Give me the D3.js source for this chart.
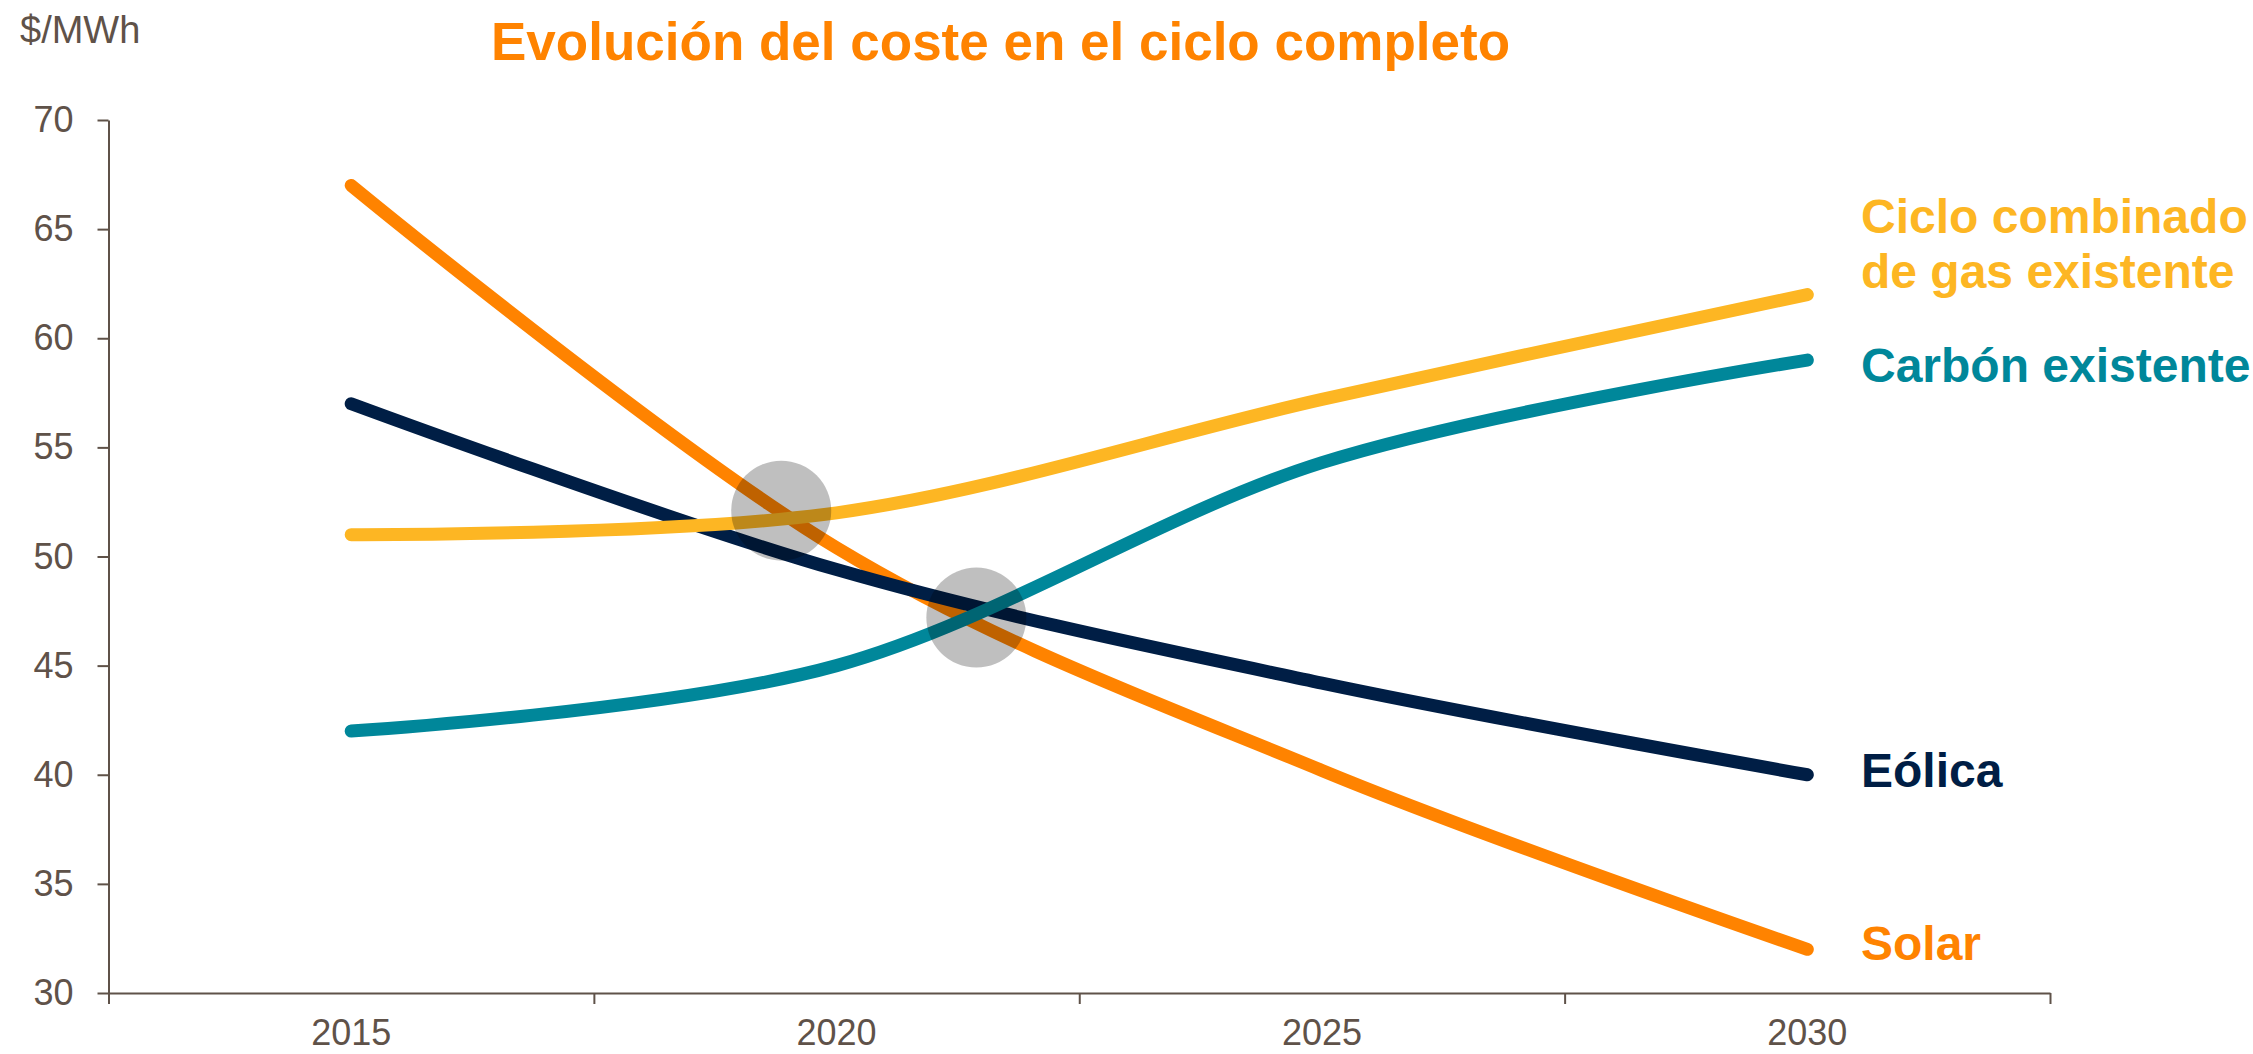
<!DOCTYPE html>
<html>
<head>
<meta charset="utf-8">
<script src="https://cdn.jsdelivr.net/npm/d3@7"></script>
<style>
  body { margin: 0; background: #fff; }
  svg text { font-family: "Liberation Sans", Arial, sans-serif; }
</style>
</head>
<body>
<script>
const width = 2253;
const height = 1054;

// data
const years = [2015, 2020, 2025, 2030];
const solar = [67, 50.4, 40.2, 32];
const eolica = [57, 49.4, 44.2, 40];
const carbon = [42, 45, 54.3, 59];
const gas = [51, 52, 57.2, 62];
const yTicks = [30, 35, 40, 45, 50, 55, 60, 65, 70];

// grey markers where the lines cross
const crossYears = [2019.43, 2021.44];
const crossValues = [52.1, 47.2];

// drawn in this order, last on top
const series = [
  {name: 'Solar', values: solar, color: '#ff8300', label: ['Solar'], dy: 11},
  {name: 'Eólica', values: eolica, color: '#001e45', label: ['Eólica'], dy: 12},
  {name: 'Carbón existente', values: carbon, color: '#00879a', label: ['Carbón existente'], dy: 22},
  {name: 'Ciclo combinado de gas existente', values: gas, color: '#fdb623', label: ['Ciclo combinado', 'de gas existente'], dy: -62}
];

const axisColor = '#5f5249';

const svg = d3.select('body')
  .append('svg')
  .attr('width', width)
  .attr('height', height);

// scales
const x = d3.scaleLinear()
  .domain([years[0] - 2.5, years[years.length - 1] + 2.5])
  .range([108.5, 2050]);

const y = d3.scaleLinear()
  .domain([30, 70])
  .range([993, 120]);

// y axis
const yAxis = svg.append('g')
  .attr('transform', `translate(${x.range()[0]},0)`)
  .call(d3.axisLeft(y).tickValues(yTicks).tickSize(11).tickPadding(24).tickSizeOuter(0));
yAxis.select('.domain').attr('stroke', axisColor).attr('stroke-width', 2);
yAxis.selectAll('.tick line').attr('stroke', axisColor).attr('stroke-width', 2);
yAxis.selectAll('.tick text')
  .attr('fill', axisColor)
  .style('font-size', '36px');

// x axis: ticks on the category boundaries, labels in the middle
const boundaries = years.map(d => d - 2.5).concat([years[years.length - 1] + 2.5]);
const xAxis = svg.append('g')
  .attr('transform', `translate(0,${y(30)})`)
  .call(d3.axisBottom(x).tickValues(boundaries).tickSize(11).tickSizeOuter(0).tickFormat(''));
xAxis.select('.domain').attr('stroke', axisColor).attr('stroke-width', 2);
xAxis.selectAll('.tick line').attr('stroke', axisColor).attr('stroke-width', 2);

svg.append('g')
  .selectAll('text')
  .data(years)
  .enter()
  .append('text')
  .attr('x', d => x(d))
  .attr('y', 1045)
  .attr('text-anchor', 'middle')
  .attr('fill', axisColor)
  .style('font-size', '36px')
  .text(d => d);

// lines
const line = d3.line()
  .x((d, i) => x(years[i]))
  .y(d => y(d))
  .curve(d3.curveCardinal.tension(0));

svg.append('g')
  .selectAll('path')
  .data(series)
  .enter()
  .append('path')
  .attr('d', d => line(d.values))
  .attr('fill', 'none')
  .attr('stroke', d => d.color)
  .attr('stroke-width', 13)
  .attr('stroke-linecap', 'round')
  .attr('stroke-linejoin', 'round');

// crossing markers
svg.append('g')
  .selectAll('circle')
  .data(crossYears)
  .enter()
  .append('circle')
  .attr('cx', d => x(d))
  .attr('cy', (d, i) => y(crossValues[i]))
  .attr('r', 50)
  .attr('fill', '#000')
  .attr('fill-opacity', 0.25);

// series labels
const labels = svg.append('g')
  .selectAll('text')
  .data(series)
  .enter()
  .append('text')
  .attr('x', 1861)
  .attr('y', d => y(d.values[d.values.length - 1]) + d.dy)
  .attr('fill', d => d.color)
  .style('font-size', '48px')
  .style('font-weight', 'bold');
labels.selectAll('tspan')
  .data(d => d.label)
  .enter()
  .append('tspan')
  .attr('x', 1861)
  .attr('dy', (d, i) => i === 0 ? 0 : 55)
  .text(d => d);

// title and unit
svg.append('text')
  .text('Evolución del coste en el ciclo completo')
  .attr('x', 491)
  .attr('y', 60)
  .attr('fill', '#ff8300')
  .style('font-size', '53px')
  .style('font-weight', 'bold');

svg.append('text')
  .text('$/MWh')
  .attr('x', 20)
  .attr('y', 43)
  .attr('fill', axisColor)
  .style('font-size', '38px');
</script>
</body>
</html>
